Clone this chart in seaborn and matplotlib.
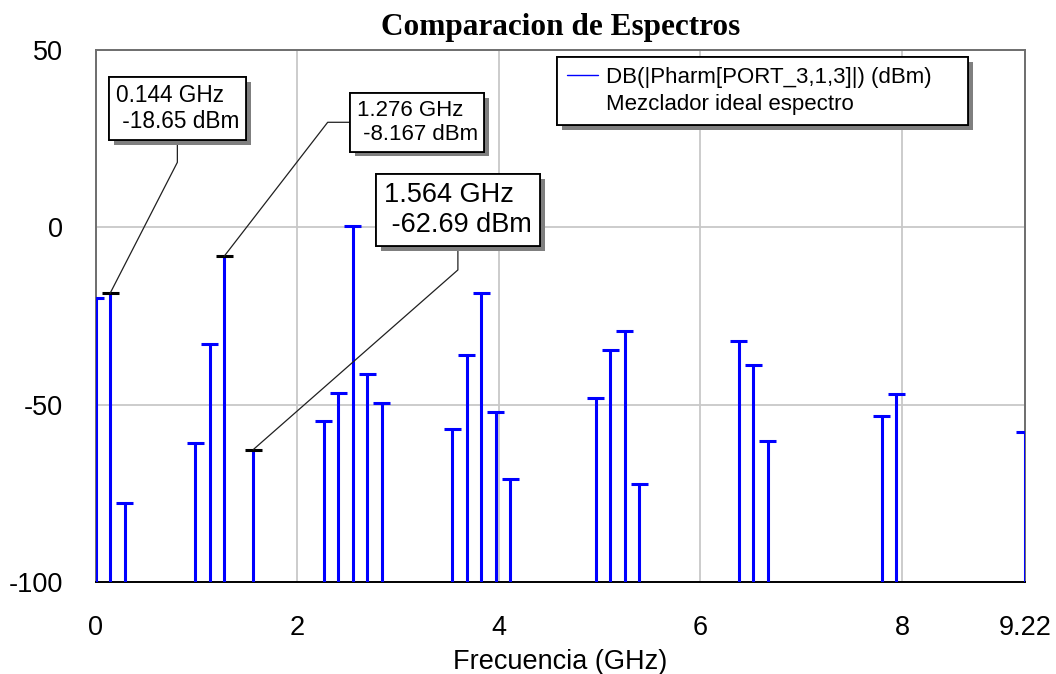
import matplotlib
matplotlib.use("Agg")
import numpy as np
import pandas as pd
import seaborn as sns
import matplotlib.pyplot as plt
import matplotlib.patheffects as pe
from matplotlib.lines import Line2D

# Spectrum lines of the mixer output (GHz, dBm)
freq_ghz = [0.0, 0.144, 0.288, 0.988, 1.132, 1.276, 1.564,
            2.264, 2.408, 2.552, 2.696, 2.840,
            3.540, 3.684, 3.828, 3.972, 4.116,
            4.960, 5.104, 5.248, 5.392,
            6.380, 6.524, 6.668,
            7.800, 7.944, 9.220]
power_dbm = [-20.0, -18.65, -77.6, -60.8, -33.0, -8.167, -62.69,
             -54.7, -46.6, 0.5, -41.4, -49.5,
             -57.0, -35.9, -18.4, -52.1, -71.0,
             -48.1, -34.6, -29.2, -72.5,
             -32.1, -38.9, -60.3,
             -53.2, -46.9, -57.7]
marker_freqs = [0.144, 1.276, 1.564]

x_ticks = [0, 2, 4, 6, 8, 9.22]
x_tick_labels = ["0", "2", "4", "6", "8", "9.22"]
y_ticks = [-100, -50, 0, 50]
legend_labels = ["DB(|Pharm[PORT_3,1,3]|) (dBm)", "Mezclador ideal espectro"]

sns.set_theme(style="white")
plt.rcParams["font.family"] = ["Liberation Sans", "DejaVu Sans"]
plt.rcParams["axes.unicode_minus"] = False
plt.rcParams["text.color"] = "black"
plt.rcParams["axes.labelcolor"] = "black"
plt.rcParams["xtick.color"] = "black"
plt.rcParams["ytick.color"] = "black"

fig = plt.figure(figsize=(10.56, 6.74), dpi=100)
ax = fig.add_axes([95.5 / 1056, (674 - 582) / 674, 929.5 / 1056, 532 / 674])

x_min, x_max = 0, 9.22
y_min, y_max = -100, 50

df = pd.DataFrame({"freq": freq_ghz, "power": power_dbm})
df["marked"] = np.isin(np.round(df["freq"], 3), marker_freqs)

# stems rising from the floor of the plot
ax.vlines(df["freq"], y_min, df["power"], color="#0000ff", lw=2.2, zorder=3)
# horizontal caps on top of each stem (markers shown in black)
sns.scatterplot(data=df, x="freq", y="power", hue="marked",
                palette={False: "#0000ff", True: "black"}, marker="_",
                s=150, linewidth=2.2, legend=False, ax=ax, zorder=4)

ax.set_xlim(x_min, x_max)
ax.set_ylim(y_min, y_max)
ax.set_xticks(x_ticks, x_tick_labels)
ax.set_yticks(y_ticks)
ax.grid(True, color="#c8c8c8", lw=1.3)
ax.set_axisbelow(True)
ax.tick_params(axis="both", length=0, labelsize=19.5)
ax.tick_params(axis="y", pad=23.5)
ax.tick_params(axis="x", pad=23.5)

for side in ["left", "top", "right"]:
    ax.spines[side].set_visible(True)
    ax.spines[side].set_color("#6e6e6e")
    ax.spines[side].set_linewidth(1.4)
ax.spines["bottom"].set_visible(True)
ax.spines["bottom"].set_color("black")
ax.spines["bottom"].set_linewidth(1.4)

ax.set_title("Comparacion de Espectros", fontfamily="Liberation Serif",
             fontweight="bold", fontsize=22.5, pad=11)
ax.set_xlabel("Frecuencia (GHz)", fontsize=19.5, labelpad=6)
ax.set_ylabel("")

# marker callouts: text box position (axes fraction), font size, leader route
callouts = [
    dict(freq=0.144, pos=(0.0217, 0.9366), size=16.3, relpos=(0.5, 0.0), angle=-90, arm=29),
    dict(freq=1.276, pos=(0.281, 0.9066), size=16, relpos=(0.0, 0.5), angle=180, arm=29),
    dict(freq=1.564, pos=(0.3104, 0.752), size=19.5, relpos=(0.5, 0.0), angle=-90, arm=32),
]
shadow = [pe.withSimplePatchShadow(offset=(3.5, -3.5), shadow_rgbFace="#7f7f7f", alpha=1.0),
          pe.Normal()]
for c in callouts:
    val = df.loc[np.isclose(df["freq"], c["freq"]), "power"].iloc[0]
    ann = ax.annotate(
        f"{c['freq']:.3f} GHz\n {val:.4g} dBm",
        xy=(c["freq"], val), xycoords="data",
        xytext=c["pos"], textcoords="axes fraction",
        ha="left", va="top", fontsize=c["size"], color="black",
        bbox=dict(boxstyle="square,pad=0.3", fc="white", ec="black", lw=1.3),
        arrowprops=dict(arrowstyle="-", color="#202020", lw=0.9,
                        relpos=c["relpos"], shrinkA=0, shrinkB=0,
                        connectionstyle=f"arc,angleA={c['angle']},armA={c['arm']},angleB=0,armB=0,rad=0"),
        zorder=6,
    )
    ann.get_bbox_patch().set_path_effects(shadow)

handles = [Line2D([], [], color="#0000ff", lw=1.0), Line2D([], [], color="none")]
leg = ax.legend(handles, legend_labels, loc="upper left",
                bbox_to_anchor=(0.497, 0.0, 0.442, 0.987), mode="expand",
                fontsize=16, frameon=True, fancybox=False, edgecolor="black",
                framealpha=1, borderaxespad=0, handlelength=1.36,
                handletextpad=0.36, labelspacing=0.28, borderpad=0.45)
leg.get_frame().set_linewidth(1.3)
leg.legendPatch.set_path_effects(shadow)
leg.set_zorder(7)

fig.savefig("out.png", dpi=100)
